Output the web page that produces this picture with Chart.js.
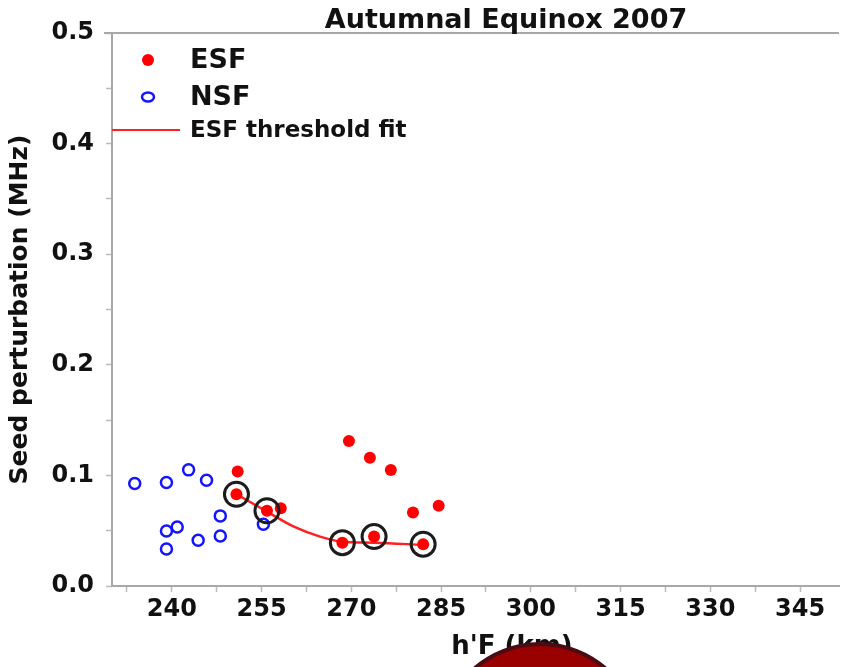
<!DOCTYPE html>
<html>
<head>
<meta charset="utf-8">
<script src="https://cdn.jsdelivr.net/npm/chart.js@4/dist/chart.umd.min.js"></script>
<style>
    body { margin: 0; background: #fff; }
    canvas { display: block; }
</style>
</head>
<body>
<canvas id="chart" width="854" height="667"></canvas>
<script>
// --- data ------------------------------------------------------------

var esfX = [251.0, 250.8, 255.9, 258.2, 269.6, 273.1, 276.6, 268.5, 273.8, 280.3, 284.6, 282.0];
var esfY = [0.1035, 0.083, 0.068, 0.0704, 0.131, 0.116, 0.1048, 0.0392, 0.0447, 0.0664, 0.0725, 0.0378];

var nsfX = [233.8, 239.1, 242.8, 245.8, 239.1, 240.9, 239.1, 244.4, 248.1, 248.1, 255.3];
var nsfY = [0.0927, 0.0936, 0.105, 0.0957, 0.0498, 0.0534, 0.0335, 0.0414, 0.0634, 0.0453, 0.0559];

// ESF points picked for the threshold (black rings)
var thresholdX = [250.8, 255.9, 268.5, 273.8, 282.0];
var thresholdY = [0.083, 0.068, 0.0392, 0.0447, 0.0378];

var fitX = [250.8, 255.9, 260.5, 264.9, 268.5, 273.8, 282.0];
var fitY = [0.083, 0.0673, 0.0534, 0.0444, 0.0401, 0.0392, 0.0371];

var xMajorTicks = [240, 255, 270, 285, 300, 315, 330, 345];
var yMajorTicks = [0.0, 0.1, 0.2, 0.3, 0.4, 0.5];

var chartTitle = "Autumnal Equinox 2007";
var xTitle = "h'F (km)";
var yTitle = "Seed perturbation (MHz)";
var legendLabels = ["ESF", "NSF", "ESF threshold fit"];

// ----------------------------------------------------------------------
var FONT = '"DejaVu Sans", "Liberation Sans", sans-serif';
var AXIS_COLOR = "#a8a8a8";

function toPoints(xs, ys) {
    var pts = [];
    for (var i = 0; i < xs.length; i++) {
        pts.push({x: xs[i], y: ys[i]});
    }
    return pts;
}

function isMajor(value, list) {
    for (var i = 0; i < list.length; i++) {
        if (Math.abs(list[i] - value) < 1e-6) {
            return true;
        }
    }
    return false;
}

var decorations = {
    id: "decorations",
    afterDraw: function (chart) {
        var ctx = chart.ctx;
        var area = chart.chartArea;
        ctx.save();

        // top frame line
        ctx.strokeStyle = AXIS_COLOR;
        ctx.lineWidth = 2;
        ctx.beginPath();
        ctx.moveTo(area.left - 8, area.top);
        ctx.lineTo(area.right, area.top);
        ctx.stroke();

        ctx.fillStyle = "#111";
        ctx.textBaseline = "middle";
        ctx.textAlign = "center";
        ctx.font = "bold 27px " + FONT;
        ctx.fillText(chartTitle, 506, 21);

        ctx.font = "bold 26px " + FONT;
        ctx.fillText(xTitle, 512, 647);

        // legend, inside the plot top-left
        ctx.textAlign = "left";
        ctx.fillStyle = "#ff0000";
        ctx.beginPath();
        ctx.arc(148, 60, 6, 0, Math.PI * 2);
        ctx.fill();

        ctx.strokeStyle = "#1414ff";
        ctx.lineWidth = 2.5;
        ctx.beginPath();
        ctx.ellipse(148, 97, 6, 4.5, 0, 0, Math.PI * 2);
        ctx.stroke();

        ctx.strokeStyle = "#ff2020";
        ctx.lineWidth = 2;
        ctx.beginPath();
        ctx.moveTo(area.left, 130);
        ctx.lineTo(180, 130);
        ctx.stroke();

        ctx.fillStyle = "#111";
        ctx.font = "bold 27px " + FONT;
        ctx.fillText(legendLabels[0], 190, 61);
        ctx.fillText(legendLabels[1], 190, 98);
        ctx.font = "bold 23px " + FONT;
        ctx.fillText(legendLabels[2], 190, 131);

        // dark red disc overlapping the bottom edge
        ctx.fillStyle = "#990000";
        ctx.strokeStyle = "#4a0c12";
        ctx.lineWidth = 4;
        ctx.beginPath();
        ctx.arc(540, 744, 100, 0, Math.PI * 2);
        ctx.fill();
        ctx.stroke();

        ctx.restore();
    }
};

var ctx = document.getElementById("chart").getContext("2d");

new Chart(ctx, {
    type: "scatter",
    data: {
        datasets: [
            {
                label: "threshold",
                data: toPoints(thresholdX, thresholdY),
                pointStyle: "circle",
                pointRadius: 12,
                pointBorderWidth: 3,
                pointBorderColor: "#1c1c1c",
                pointBackgroundColor: "rgba(0,0,0,0)",
                order: 0
            },
            {
                label: legendLabels[0],
                data: toPoints(esfX, esfY),
                pointRadius: 6,
                pointBorderWidth: 0,
                pointBackgroundColor: "#ff0000",
                pointBorderColor: "#ff0000",
                order: 1
            },
            {
                type: "line",
                label: legendLabels[2],
                data: toPoints(fitX, fitY),
                borderColor: "#ff2020",
                borderWidth: 2.5,
                pointRadius: 0,
                fill: false,
                cubicInterpolationMode: "monotone",
                order: 2
            },
            {
                label: legendLabels[1],
                data: toPoints(nsfX, nsfY),
                pointRadius: 5.5,
                pointBorderWidth: 2.5,
                pointBorderColor: "#1414ff",
                pointBackgroundColor: "rgba(255,255,255,0)",
                order: 3
            }
        ]
    },
    options: {
        responsive: false,
        animation: false,
        devicePixelRatio: 1,
        layout: {padding: {top: 33, right: 6, left: 0, bottom: 0}},
        plugins: {
            legend: {display: false},
            title: {display: false},
            tooltip: {enabled: false}
        },
        scales: {
            x: {
                type: "linear",
                min: 230,
                max: 351.5,
                afterFit: function (scale) {
                    scale.height = 81;
                    scale.paddingLeft = 0;
                    scale.paddingRight = 0;
                },
                border: {display: true, color: AXIS_COLOR, width: 2},
                grid: {drawOnChartArea: false, drawTicks: true, tickLength: 6, tickColor: "#bbb", tickWidth: 1.5},
                ticks: {
                    stepSize: 7.5,
                    includeBounds: false,
                    autoSkip: false,
                    maxRotation: 0,
                    padding: 3,
                    color: "#111",
                    font: {family: FONT, size: 24, weight: "bold"},
                    callback: function (value) {
                        return isMajor(value, xMajorTicks) ? String(value) : "";
                    }
                }
            },
            y: {
                min: 0,
                max: 0.5,
                afterFit: function (scale) { scale.width = 112; },
                border: {display: true, color: AXIS_COLOR, width: 2},
                grid: {drawOnChartArea: false, drawTicks: true, tickLength: 6, tickColor: "#bbb", tickWidth: 1.5},
                title: {
                    display: true,
                    text: yTitle,
                    color: "#111",
                    padding: {top: 5, bottom: 0},
                    font: {family: FONT, size: 25, weight: "bold"}
                },
                ticks: {
                    stepSize: 0.05,
                    autoSkip: false,
                    padding: 12,
                    color: "#111",
                    font: {family: FONT, size: 24, weight: "bold"},
                    callback: function (value) {
                        return isMajor(value, yMajorTicks) ? value.toFixed(1) : "";
                    }
                }
            }
        }
    },
    plugins: [decorations]
});
</script>
</body>
</html>
